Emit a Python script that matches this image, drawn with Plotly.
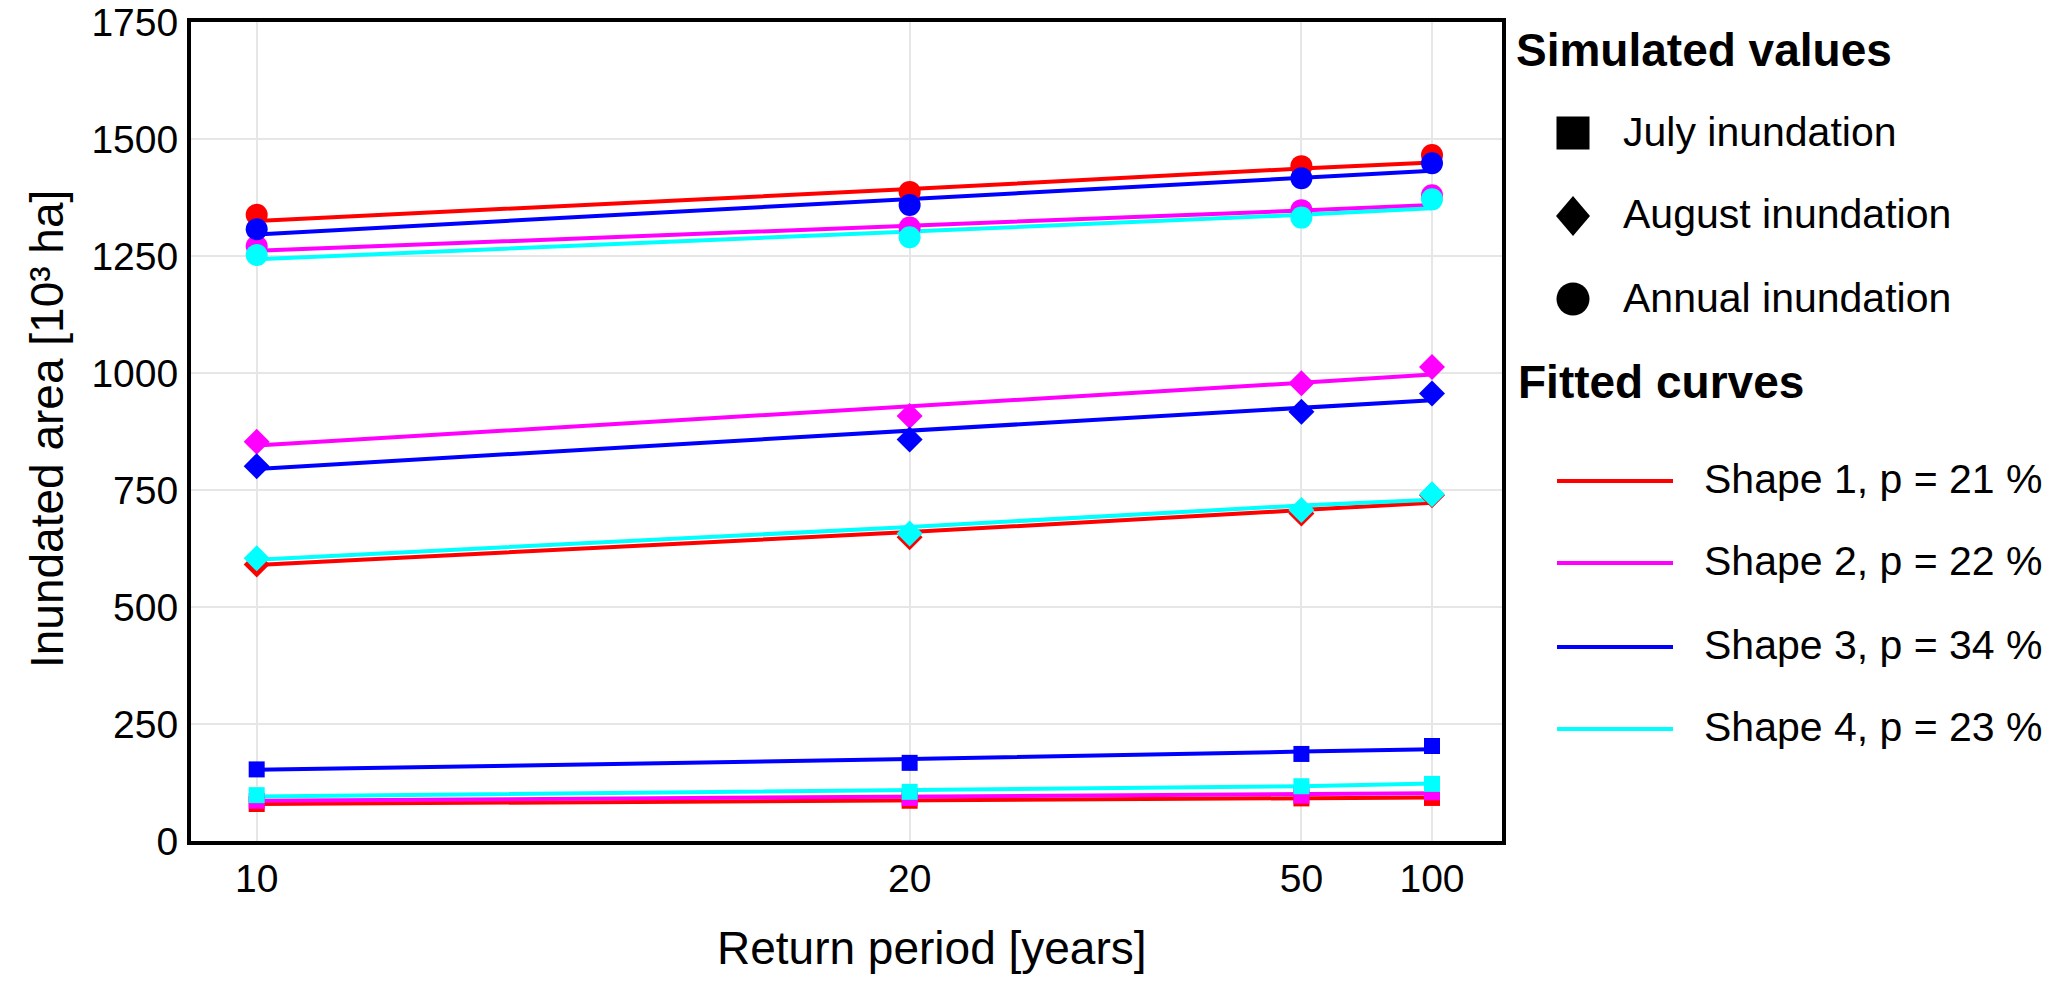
import numpy as np
import plotly.graph_objects as go

# ---------------- data ----------------
return_periods = [10, 20, 50, 100]
x_tick_labels = ["10", "20", "50", "100"]
y_tick_values = [0, 250, 500, 750, 1000, 1250, 1500, 1750]

shape_labels = ["Shape 1, p = 21 %", "Shape 2, p = 22 %", "Shape 3, p = 34 %", "Shape 4, p = 23 %"]
shape_colors = ["#ff0000", "#ff00ff", "#0000ff", "#00ffff"]
event_labels = ["July inundation", "August inundation", "Annual inundation"]

# inundated area [10^3 ha]; one list per shape (1..4), values at return periods 10, 20, 50, 100
july_simulated = [
    [79, 86, 91, 92],
    [86, 92, 97, 104],
    [153, 167, 186, 203],
    [98, 105, 117, 122],
]
july_fitted = [
    [79, 86, 91, 93],
    [86, 96, 100, 102],
    [152, 175, 191, 196],
    [95, 110, 117, 123],
]
august_simulated = [
    [591, 649, 700, 739],
    [853, 908, 978, 1013],
    [801, 858, 917, 956],
    [604, 657, 707, 741],
]
august_fitted = [
    [590, 660, 707, 723],
    [845, 928, 979, 997],
    [795, 877, 925, 942],
    [601, 671, 717, 729],
]
annual_simulated = [
    [1338, 1387, 1442, 1466],
    [1271, 1311, 1348, 1380],
    [1307, 1359, 1416, 1448],
    [1252, 1290, 1332, 1371],
]
annual_fitted = [
    [1325, 1393, 1437, 1450],
    [1261, 1314, 1347, 1359],
    [1296, 1372, 1417, 1432],
    [1243, 1302, 1338, 1352],
]

# ---------------- styling / geometry ----------------
W, H = 2066, 986
ML, MR, MT, MB = 191, 564, 22, 145
PW, PH = W - ML - MR, H - MT - MB
FONT = "Liberation Sans, Arial, sans-serif"

# the x axis is linear in exceedance probability 1/T (decreasing to the right)
x_vals = 1.0 / np.array(return_periods, dtype=float)

fig = go.Figure()

groups = [
    (july_simulated, july_fitted, "square", 16),
    (august_simulated, august_fitted, "diamond", 20),
    (annual_simulated, annual_fitted, "circle", 22),
]

# fitted curves first
for sim, fit, sym, size in groups:
    for i in range(4):
        fig.add_trace(go.Scatter(
            x=x_vals, y=fit[i], mode="lines",
            line=dict(color=shape_colors[i], width=4),
            showlegend=False, name=shape_labels[i],
        ))
# simulated values on top
for sim, fit, sym, size in groups:
    for i in range(4):
        fig.add_trace(go.Scatter(
            x=x_vals, y=sim[i], mode="markers",
            marker=dict(symbol=sym, size=size, color=shape_colors[i], line=dict(width=0)),
            showlegend=False, name=shape_labels[i],
        ))


def pxx(px):
    return (px - ML) / PW


def pxy(py):
    return (MT + PH - py) / PH


shapes = []
annotations = []

# ---- custom legend ----
annotations.append(dict(text="<b>Simulated values</b>", x=pxx(1514), y=pxy(50), xref="paper", yref="paper",
                        xanchor="left", yanchor="middle", showarrow=False,
                        font=dict(family=FONT, size=46, color="black")))
annotations.append(dict(text="<b>Fitted curves</b>", x=pxx(1516), y=pxy(382), xref="paper", yref="paper",
                        xanchor="left", yanchor="middle", showarrow=False,
                        font=dict(family=FONT, size=46, color="black")))

sym_cx = 1573
sym_rows = [133, 216, 299]
text_rows_sim = [132, 214, 298]
for k, lab in enumerate(event_labels):
    cy = sym_rows[k]
    if k == 0:
        shapes.append(dict(type="rect", xref="paper", yref="paper",
                           x0=pxx(sym_cx - 16.5), x1=pxx(sym_cx + 16.5), y0=pxy(cy + 16.5), y1=pxy(cy - 16.5),
                           fillcolor="black", line=dict(width=0)))
    elif k == 1:
        path = "M {},{} L {},{} L {},{} L {},{} Z".format(
            pxx(sym_cx), pxy(cy - 20), pxx(sym_cx + 17), pxy(cy),
            pxx(sym_cx), pxy(cy + 20), pxx(sym_cx - 17), pxy(cy))
        shapes.append(dict(type="path", xref="paper", yref="paper", path=path,
                           fillcolor="black", line=dict(width=0)))
    else:
        shapes.append(dict(type="circle", xref="paper", yref="paper",
                           x0=pxx(sym_cx - 16.5), x1=pxx(sym_cx + 16.5), y0=pxy(cy + 16.5), y1=pxy(cy - 16.5),
                           fillcolor="black", line=dict(width=0)))
    annotations.append(dict(text=lab, x=pxx(1621), y=pxy(text_rows_sim[k]), xref="paper", yref="paper",
                            xanchor="left", yanchor="middle", showarrow=False,
                            font=dict(family=FONT, size=41, color="black")))

line_rows = [481, 563, 647, 729]
for i in range(4):
    cy = line_rows[i]
    shapes.append(dict(type="line", xref="paper", yref="paper",
                       x0=pxx(1557), x1=pxx(1673), y0=pxy(cy), y1=pxy(cy),
                       line=dict(color=shape_colors[i], width=4)))
    annotations.append(dict(text=shape_labels[i], x=pxx(1702), y=pxy(cy - 2), xref="paper", yref="paper",
                            xanchor="left", yanchor="middle", showarrow=False,
                            font=dict(family=FONT, size=41, color="black")))

# ---- axis titles ----
annotations.append(dict(text="Return period [years]", x=pxx(932), y=pxy(948), xref="paper", yref="paper",
                        xanchor="center", yanchor="middle", showarrow=False,
                        font=dict(family=FONT, size=46, color="black")))
annotations.append(dict(text="Inundated area [10³ ha]", x=pxx(47), y=pxy(429), xref="paper", yref="paper",
                        xanchor="center", yanchor="middle", showarrow=False, textangle=-90,
                        font=dict(family=FONT, size=46, color="black")))

axis_common = dict(
    showgrid=True, gridcolor="#e6e6e6", gridwidth=2,
    showline=True, mirror=True, linecolor="black", linewidth=4,
    zeroline=False, ticks="", ticklen=0, automargin=False,
    tickfont=dict(family=FONT, size=39, color="black"),
)

fig.update_layout(
    width=W, height=H,
    margin=dict(l=ML, r=MR, t=MT, b=MB, pad=0),
    paper_bgcolor="white", plot_bgcolor="white",
    showlegend=False,
    font=dict(family=FONT, color="black"),
    xaxis=dict(range=[0.10503, 0.00464], tickmode="array",
               tickvals=x_vals, ticktext=x_tick_labels, ticklabelstandoff=0, **axis_common),
    yaxis=dict(range=[0, 1750], tickmode="array", tickvals=y_tick_values,
               ticklabelstandoff=1, **axis_common),
    shapes=shapes,
    annotations=annotations,
)

fig.write_html("out.html", config={"displayModeBar": False},
               post_script="document.body.style.margin='0';document.body.style.overflow='hidden';")
